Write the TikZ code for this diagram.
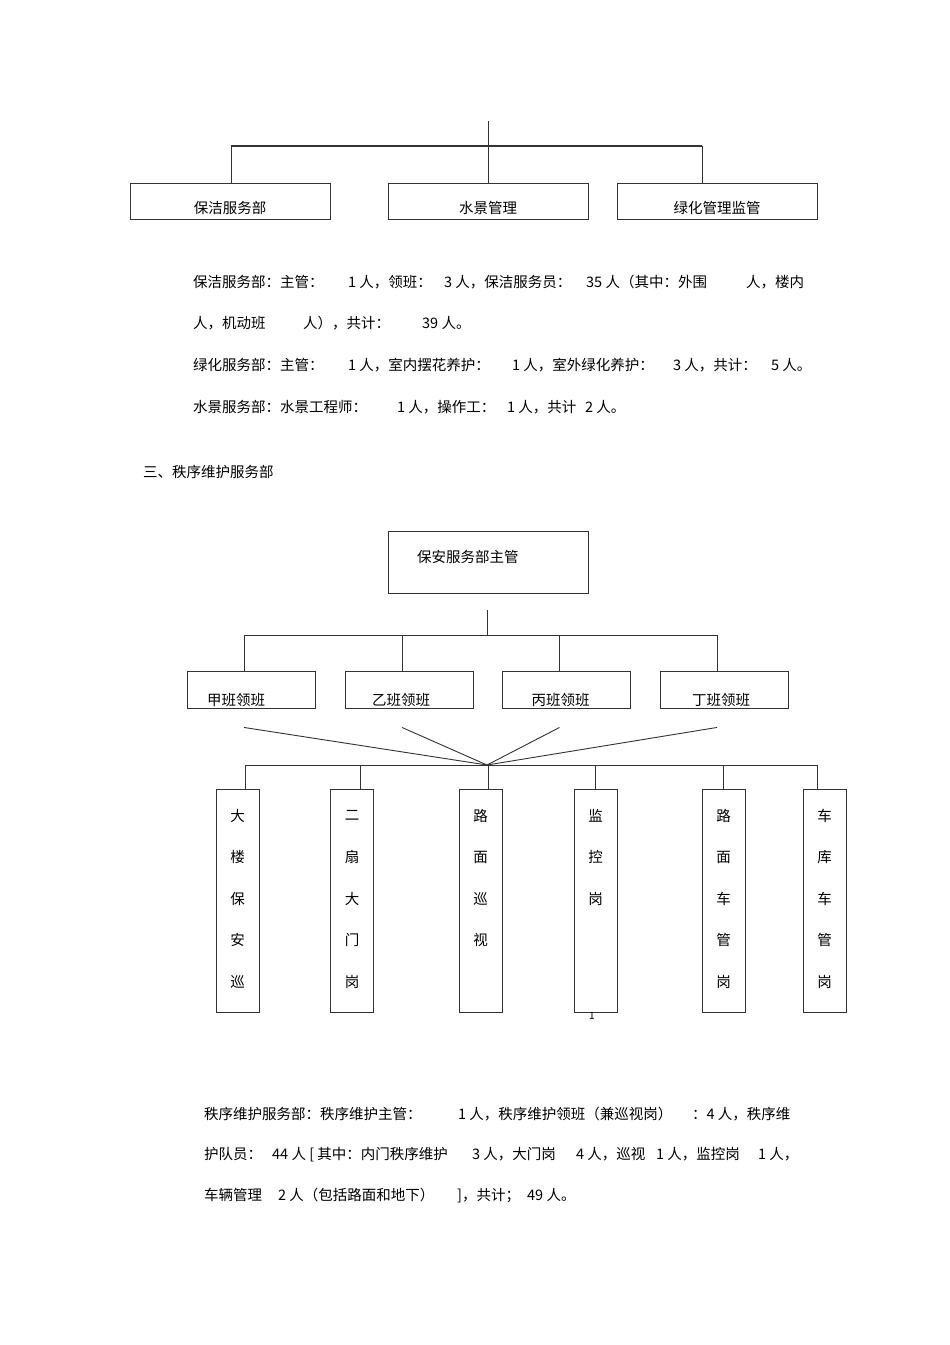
\documentclass[tikz,border=0pt]{standalone}
\usepackage{fontspec}
\setmainfont{Noto Sans CJK SC}
\usetikzlibrary{calc}

% a run of text that takes a fixed width
\newcommand{\txtseg}[2]{\makebox[#1pt][l]{#2}}

\tikzset{
  line/.style={draw=black!80, line width=0.9pt},
  deptbox/.style={line, minimum width=200pt, minimum height=36pt, inner sep=0pt,
    text height=30pt, text depth=6pt},
  chiefbox/.style={line, text width=200pt, align=left, inner sep=0pt,
    text height=31pt, text depth=31pt},
  leadbox/.style={line, text width=128pt, align=left, inner sep=0pt,
    text height=34pt, text depth=3pt},
  postbox/.style={line, minimum width=43pt, minimum height=223pt, inner sep=0pt},
  para/.style={anchor=base west, inner sep=0pt}
}

\begin{document}
\begin{tikzpicture}[x=1pt, y=-1pt, font=\fontsize{14.5}{17}\selectfont]
\fill[white] (0,0) rectangle (950,1345);
\useasboundingbox (0,0) rectangle (950,1345);

% cleaning / water / green departments
\coordinate (topin) at (488,121);
\coordinate (topbus) at (488,146);
\node[deptbox] (clean) at (230,201) {保洁服务部};
\node[deptbox] (water) at (488,201) {水景管理};
\node[deptbox] (green) at (717,201) {绿化管理监管};
\coordinate (clean-in) at ([xshift=1pt]clean.north);
\coordinate (green-in) at ([xshift=-15pt]green.north);
\draw[line] (topin) -- (water.north);
\draw[line, line width=1.8pt] (clean-in |- topbus) -- (green-in |- topbus);
\draw[line] (clean-in |- topbus) -- (clean-in);
\draw[line] (green-in |- topbus) -- (green-in);

\node[para] (t1) at (193,287) {\txtseg{155}{保洁服务部：主管：}\txtseg{96}{1 人，领班：}\txtseg{142}{3 人，保洁服务员：}\txtseg{160}{35 人（其中：外围}人，楼内};
\node[para] (t2) at (193,328) {\txtseg{110}{人，机动班}\txtseg{119}{人），共计：}39 人。};
\node[para] (t3) at (193,370) {\txtseg{155}{绿化服务部：主管：}\txtseg{164}{1 人，室内摆花养护：}\txtseg{161}{1 人，室外绿化养护：}\txtseg{98}{3 人，共计：}5 人。};
\node[para] (t4) at (193,412) {\txtseg{204}{水景服务部：水景工程师：}\txtseg{110}{1 人，操作工：}\txtseg{78}{1 人，共计}2 人。};
\node[para] (head) at (143,477) {三、秩序维护服务部};

% security department
\node[chiefbox] (chief) at (488,562) {\hspace*{29pt}保安服务部主管};
\coordinate (chiefout) at (487,610);
\coordinate (leadbus) at (487,635);
\node[leadbox] (la) at (251,689.5) {\hspace*{20pt}甲班领班};
\node[leadbox] (lb) at (409,689.5) {\hspace*{27pt}乙班领班};
\node[leadbox] (lc) at (566.5,689.5) {\hspace*{29pt}丙班领班};
\node[leadbox] (ld) at (724,689.5) {\hspace*{32pt}丁班领班};
\foreach \n in {la,lb,lc,ld}
  \coordinate (\n-in) at ([xshift=-7pt]\n.north);
\draw[line] (chiefout) -- (leadbus);
\draw[line] (la-in |- leadbus) -- (ld-in |- leadbus);
\foreach \n in {la,lb,lc,ld}
  \draw[line] (\n-in |- leadbus) -- (\n-in);

% fan of shift leaders down to the posts
\coordinate (hub) at (487,765);
\foreach \n in {la,lb,lc,ld}
  \draw[line] ([xshift=-7pt,yshift=-19pt]\n.south) -- (hub);

\node[postbox] (pa) at (237.5,900.5) {};
\node[postbox] (pb) at (352,900.5) {};
\node[postbox] (pc) at (480.5,900.5) {};
\node[postbox] (pd) at (595.5,900.5) {};
\node[postbox] (pe) at (723.5,900.5) {};
\node[postbox] (pf) at (824.5,900.5) {};
\foreach \n/\dx in {pa/7.5,pb/8,pc/7.5,pd/-0.5,pe/-0.5,pf/-7.5}
  \coordinate (\n-in) at ([xshift=\dx pt]\n.north);
\draw[line] (pa-in |- hub) -- (pf-in |- hub);
\foreach \n in {pa,pb,pc,pd,pe,pf}
  \draw[line] (\n-in |- hub) -- (\n-in);

\foreach \c [count=\i] in {大,楼,保,安,巡}
  \node (pa-\i) at ($(pa.north)+(0,{27+41.5*(\i-1)})$) {\c};
\foreach \c [count=\i] in {二,扇,大,门,岗}
  \node (pb-\i) at ($(pb.north)+(0,{27+41.5*(\i-1)})$) {\c};
\foreach \c [count=\i] in {路,面,巡,视}
  \node (pc-\i) at ($(pc.north)+(0,{27+41.5*(\i-1)})$) {\c};
\foreach \c [count=\i] in {监,控,岗}
  \node (pd-\i) at ($(pd.north)+(0,{27+41.5*(\i-1)})$) {\c};
\foreach \c [count=\i] in {路,面,车,管,岗}
  \node (pe-\i) at ($(pe.north)+(0,{27+41.5*(\i-1)})$) {\c};
\foreach \c [count=\i] in {车,库,车,管,岗}
  \node (pf-\i) at ($(pf.north)+(0,{27+41.5*(\i-1)})$) {\c};

\node[inner sep=0pt, font=\fontsize{10}{12}\selectfont] (pgno) at (592,1016) {1};

\node[para] (b1) at (204,1119) {\txtseg{254}{秩序维护服务部：秩序维护主管：}\txtseg{234}{1 人，秩序维护领班（兼巡视岗）}：4 人，秩序维};
\node[para] (b2) at (204,1159) {\txtseg{68}{护队员：}\txtseg{200}{44 人 [ 其中：内门秩序维护}\txtseg{104}{3 人，大门岗}\txtseg{80}{4 人，巡视}\txtseg{102}{1 人，监控岗}1 人，};
\node[para] (b3) at (204,1200) {\txtseg{74}{车辆管理}\txtseg{179}{2 人（包括路面和地下）}\txtseg{70}{]，共计；}49 人。};
\end{tikzpicture}
\end{document}
